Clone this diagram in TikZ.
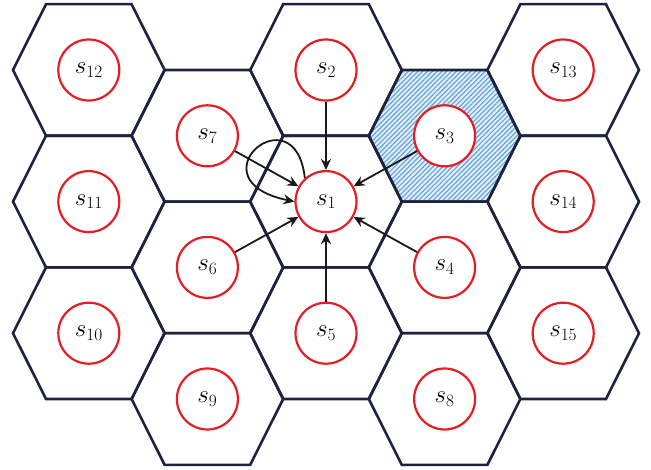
\documentclass[tikz,border=0pt]{standalone}
\usetikzlibrary{arrows.meta,patterns.meta}
\definecolor{hexc}{RGB}{30,34,62}
\definecolor{redc}{RGB}{228,30,38}
\definecolor{patc}{RGB}{100,165,222}
\begin{document}
\begin{tikzpicture}[x=1pt,y=-1pt,
  cell/.style={draw=hexc,line width=2.6pt,line join=miter},
  shadedcell/.style={preaction={fill=patc!18},pattern={Lines[angle=45,distance=3.4pt,line width=1.2pt]},pattern color=patc},
  sn/.style={circle,draw=redc,line width=2.2pt,fill=white,minimum size=61pt,inner sep=0pt,font=\fontsize{26}{30}\selectfont},
  arr/.style={-{Stealth[length=11pt,width=10pt]},line width=1.8pt,black!90}]
\useasboundingbox (0,0) rectangle (651,470);
% shaded cell behind s3
\path[shadedcell] (444.6-75.8,135.8) -- ++(33,-65.8) -- ++(85.6,0) -- ++(33,65.8) -- ++(-33,65.8) -- ++(-85.6,0) -- cycle;
% hexagonal cells
\foreach \cx/\cy in {88.8/70,88.8/201.6,88.8/333.2,
                     207.4/135.8,207.4/267.4,207.4/399,
                     326/70,326/201.6,326/333.2,
                     444.6/135.8,444.6/267.4,444.6/399,
                     563.2/70,563.2/201.6,563.2/333.2}
  \draw[cell] (\cx-75.8,\cy) -- ++(33,-65.8) -- ++(85.6,0) -- ++(33,65.8) -- ++(-33,65.8) -- ++(-85.6,0) -- cycle;
% nodes
\node[sn] (s12) at (88.8,70)    {$s_{12}$};
\node[sn] (s11) at (88.8,201.6) {$s_{11}$};
\node[sn] (s10) at (88.8,333.2) {$s_{10}$};
\node[sn] (s7)  at (207.4,135.8) {$s_{7}$};
\node[sn] (s6)  at (207.4,267.4) {$s_{6}$};
\node[sn] (s9)  at (207.4,399)   {$s_{9}$};
\node[sn] (s2)  at (326,70)    {$s_{2}$};
\node[sn] (s1)  at (326,201.6) {$s_{1}$};
\node[sn] (s5)  at (326,333.2) {$s_{5}$};
\node[sn] (s3)  at (444.6,135.8) {$s_{3}$};
\node[sn] (s4)  at (444.6,267.4) {$s_{4}$};
\node[sn] (s8)  at (444.6,399)   {$s_{8}$};
\node[sn] (s13) at (563.2,70)    {$s_{13}$};
\node[sn] (s14) at (563.2,201.6) {$s_{14}$};
\node[sn] (s15) at (563.2,333.2) {$s_{15}$};
% connectors
\draw[arr] (s2) -- (s1);
\draw[arr] (s3) -- (s1);
\draw[arr] (s4) -- (s1);
\draw[arr] (s5) -- (s1);
\draw[arr] (s6) -- (s1);
\draw[arr] (s7) -- (s1);
\draw[arr] (s1.132) .. controls (295,90) and (190,180) .. (s1.west);
\end{tikzpicture}
\end{document}
